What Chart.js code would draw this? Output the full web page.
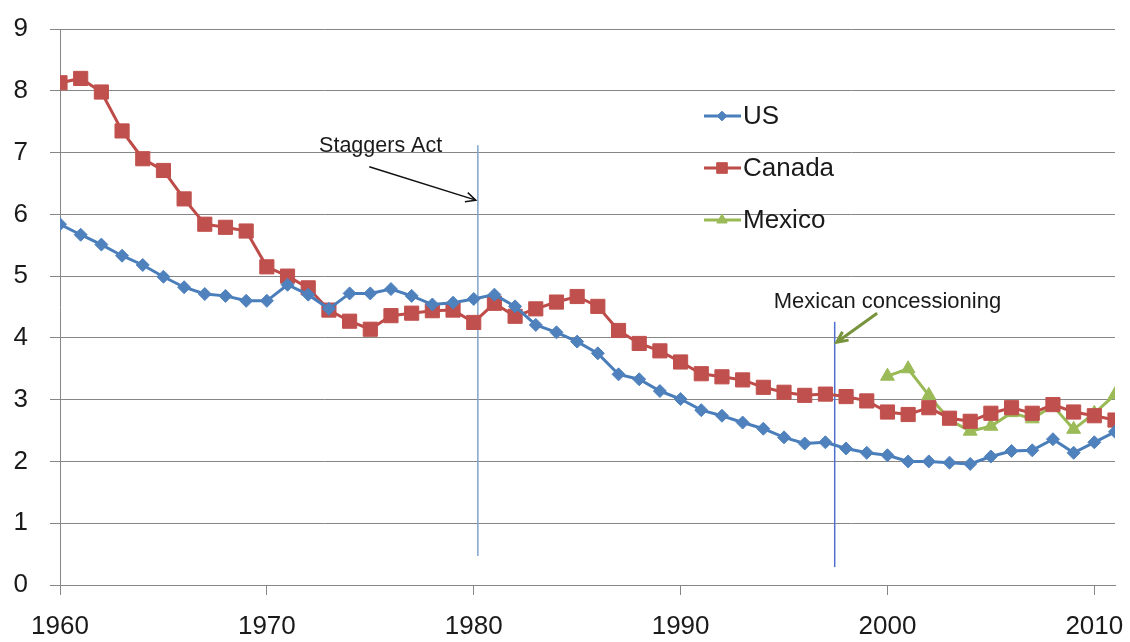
<!DOCTYPE html>
<html>
<head>
<meta charset="utf-8">
<script src="https://cdn.jsdelivr.net/npm/chart.js@4/dist/chart.umd.min.js"></script>
<style>
  html, body { margin: 0; padding: 0; background: #fff; }
  #wrap { width: 1130px; height: 642px; }
</style>
</head>
<body>
<div id="wrap"><canvas id="chart"></canvas></div>
<script>
// Years on the x axis
const years = [];
for (let y = 1960; y <= 2011; y++) years.push(y);

const usValues = [
  5.84, 5.67, 5.51, 5.33, 5.18, 4.99, 4.82, 4.71, 4.68, 4.60,
  4.60, 4.86, 4.70, 4.47, 4.72, 4.72, 4.79, 4.68, 4.54, 4.57,
  4.63, 4.70, 4.51, 4.21, 4.09, 3.94, 3.75, 3.41, 3.33, 3.14,
  3.01, 2.83, 2.74, 2.63, 2.53, 2.39, 2.29, 2.31, 2.21, 2.14,
  2.10, 2.00, 2.00, 1.98, 1.96, 2.08, 2.17, 2.18, 2.36, 2.14,
  2.31, 2.48
];

const canadaValues = [
  8.13, 8.20, 7.98, 7.35, 6.90, 6.71, 6.25, 5.84, 5.79, 5.73,
  5.15, 5.00, 4.81, 4.45, 4.27, 4.14, 4.36, 4.40, 4.44, 4.45,
  4.25, 4.56, 4.35, 4.47, 4.58, 4.67, 4.51, 4.12, 3.91, 3.79,
  3.61, 3.42, 3.37, 3.32, 3.20, 3.12, 3.07, 3.09, 3.05, 2.98,
  2.80, 2.76, 2.87, 2.70, 2.65, 2.78, 2.87, 2.78, 2.92, 2.80,
  2.74, 2.67
];

const mexicoYears = [2000, 2001, 2002, 2003, 2004, 2005, 2006, 2007, 2008, 2009, 2010, 2011];
const mexicoValues = [3.38, 3.50, 3.07, 2.67, 2.49, 2.57, 2.79, 2.69, 2.90, 2.52, 2.78, 3.08];

const seriesNames = ['US', 'Canada', 'Mexico'];

// Annotations (in data units)
const staggers = { label: 'Staggers Act', year: 1980.2, from: 0.47, to: 7.12,
  textYear: 1975.5, textValue: 7.11, arrowFrom: [1974.95, 6.77], arrowTo: [1980.1, 6.23] };
const mexican = { label: 'Mexican concessioning', year: 1997.45, from: 0.29, to: 4.26,
  textYear: 2000.0, textValue: 4.58, arrowFrom: [1999.5, 4.40], arrowTo: [1997.55, 3.93] };

const FONT = '"Liberation Sans", Arial, sans-serif';
const colors = {
  US: { line: '#4a7ebb', point: '#4f81bd', style: 'rectRot', radius: 6.5 },
  Canada: { line: '#be4b48', point: '#c0504d', style: 'rect', radius: 10 },
  Mexico: { line: '#98b954', point: '#9bbb59', style: 'triangle', radius: 8 }
};

function pts(xs, ys) {
  return xs.map((x, i) => ({ x: x, y: ys[i] }));
}

function makeDataset(name, data) {
  const c = colors[name];
  return {
    label: name,
    data: data,
    borderColor: c.line,
    backgroundColor: c.point,
    borderWidth: 3,
    pointStyle: c.style,
    pointRadius: c.radius,
    pointBackgroundColor: c.point,
    pointBorderColor: c.point,
    pointBorderWidth: 1,
    tension: 0
  };
}

function arrow(ctx, x1, y1, x2, y2, head) {
  const a = Math.atan2(y2 - y1, x2 - x1);
  ctx.beginPath();
  ctx.moveTo(x1, y1);
  ctx.lineTo(x2, y2);
  ctx.moveTo(x2 - head * Math.cos(a - 0.45), y2 - head * Math.sin(a - 0.45));
  ctx.lineTo(x2, y2);
  ctx.lineTo(x2 - head * Math.cos(a + 0.45), y2 - head * Math.sin(a + 0.45));
  ctx.stroke();
}

const annotationPlugin = {
  id: 'annotations',
  beforeDatasetsDraw(chart) {
    const { ctx, scales: { x, y } } = chart;
    ctx.save();
    ctx.lineWidth = 1.5;
    ctx.strokeStyle = '#7fa3cc';
    ctx.beginPath();
    ctx.moveTo(x.getPixelForValue(staggers.year), y.getPixelForValue(staggers.to));
    ctx.lineTo(x.getPixelForValue(staggers.year), y.getPixelForValue(staggers.from));
    ctx.stroke();
    ctx.strokeStyle = '#4f6fcf';
    ctx.beginPath();
    ctx.moveTo(x.getPixelForValue(mexican.year), y.getPixelForValue(mexican.to));
    ctx.lineTo(x.getPixelForValue(mexican.year), y.getPixelForValue(mexican.from));
    ctx.stroke();
    ctx.restore();
  },
  afterDatasetsDraw(chart) {
    const { ctx, scales: { x, y } } = chart;
    ctx.save();
    ctx.fillStyle = '#1a1a1a';
    ctx.textAlign = 'center';
    ctx.textBaseline = 'middle';
    ctx.font = '21.5px ' + FONT;
    ctx.fillText(staggers.label, x.getPixelForValue(staggers.textYear), y.getPixelForValue(staggers.textValue));
    ctx.font = '22px ' + FONT;
    ctx.fillText(mexican.label, x.getPixelForValue(mexican.textYear), y.getPixelForValue(mexican.textValue));

    ctx.strokeStyle = '#111';
    ctx.lineWidth = 1.5;
    arrow(ctx, x.getPixelForValue(staggers.arrowFrom[0]), y.getPixelForValue(staggers.arrowFrom[1]),
      x.getPixelForValue(staggers.arrowTo[0]), y.getPixelForValue(staggers.arrowTo[1]), 11);
    ctx.strokeStyle = '#77933c';
    ctx.lineWidth = 3;
    arrow(ctx, x.getPixelForValue(mexican.arrowFrom[0]), y.getPixelForValue(mexican.arrowFrom[1]),
      x.getPixelForValue(mexican.arrowTo[0]), y.getPixelForValue(mexican.arrowTo[1]), 12);

    // legend inside plot
    const left = chart.chartArea.left + 644;
    const top = chart.chartArea.top + 87;
    ctx.font = '26px ' + FONT;
    ctx.textAlign = 'left';
    seriesNames.forEach((name, i) => {
      const c = colors[name];
      const cy = top + i * 52;
      ctx.strokeStyle = c.line;
      ctx.lineWidth = 3;
      ctx.beginPath();
      ctx.moveTo(left, cy);
      ctx.lineTo(left + 37, cy);
      ctx.stroke();
      ctx.fillStyle = c.point;
      ctx.strokeStyle = c.point;
      ctx.lineWidth = 1;
      Chart.helpers.drawPoint(ctx, { pointStyle: c.style, radius: c.radius * 0.75, rotation: 0, borderWidth: 1 }, left + 18, cy);
      ctx.fillStyle = '#1a1a1a';
      ctx.fillText(name, left + 39, cy + 1);
    });
    ctx.restore();
  }
};

new Chart(document.getElementById('chart'), {
  type: 'line',
  data: {
    datasets: [
      makeDataset('US', pts(years, usValues)),
      makeDataset('Canada', pts(years, canadaValues)),
      makeDataset('Mexico', pts(mexicoYears, mexicoValues))
    ]
  },
  options: {
    responsive: true,
    maintainAspectRatio: false,
    animation: false,
    layout: { padding: { top: 29, right: 15, left: 0, bottom: 0 } },
    plugins: {
      legend: { display: false },
      tooltip: { enabled: false }
    },
    scales: {
      x: {
        type: 'linear',
        min: 1960,
        max: 2011,
        afterFit: s => { s.height = 57; s.paddingLeft = 0; s.paddingRight = 0; },
        border: { color: '#868686', width: 1 },
        grid: { drawOnChartArea: false, drawTicks: true, tickLength: 10, color: '#868686' },
        ticks: {
          stepSize: 10,
          includeBounds: false,
          autoSkip: false,
          maxRotation: 0,
          padding: 16,
          color: '#1a1a1a',
          font: { family: FONT, size: 26 },
          callback: v => String(v)
        }
      },
      y: {
        min: 0,
        max: 9,
        afterFit: s => { s.width = 60; s.paddingTop = 0; s.paddingBottom = 0; },
        border: { color: '#868686', width: 1 },
        grid: { color: '#868686', tickLength: 10 },
        ticks: {
          stepSize: 1,
          padding: 22,
          color: '#1a1a1a',
          font: { family: FONT, size: 26 }
        }
      }
    }
  },
  plugins: [annotationPlugin]
});
</script>
</body>
</html>
